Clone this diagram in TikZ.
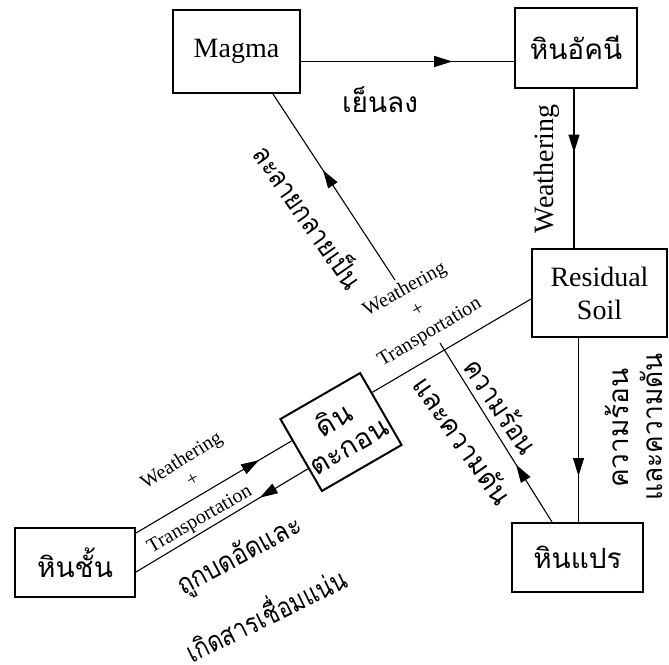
\documentclass[tikz,border=0pt]{standalone}
\usepackage{fontspec}
\setmainfont{Liberation Serif}
\newfontfamily\thai[Script=Thai]{Loma}
\usetikzlibrary{arrows.meta,decorations.markings,calc}
\tikzset{
  box/.style={draw, line width=2pt, inner sep=0pt, align=center},
  conn/.style={line width=1.1pt},
  arrowat/.style={postaction={decorate},decoration={markings,mark=at position #1 with {\arrow{Triangle[length=18pt,width=11pt]}}}},
  lat/.style={font=\fontsize{28}{30}\selectfont, inner sep=0pt},
  sml/.style={font=\fontsize{20}{24}\selectfont, inner sep=0pt},
  th/.style={font=\thai\fontsize{28}{34}\selectfont, inner sep=0pt, align=center}
}
\begin{document}
\begin{tikzpicture}[x=1pt,y=1pt]
\useasboundingbox (0,0) rectangle (669,-664);
% boxes
\node[box, lat, minimum width=127pt, minimum height=83pt] (magma) at (236.5,-51.5) {Magma};
\node[box, th, minimum width=122pt, minimum height=80pt] (igneous) at (576,-48) {หินอัคนี};
\node[box, lat, minimum width=135pt, minimum height=88pt, font=\fontsize{28}{33}\selectfont] (soil) at (599.5,-293) {Residual\\Soil};
\node[box, th, minimum width=131pt, minimum height=69pt] (meta) at (577.5,-557.5) {หินแปร};
\node[box, th, minimum width=120pt, minimum height=69pt] (sed) at (75,-562.5) {หินชั้น};
\node[box, th, rotate=30, minimum width=92pt, minimum height=83pt, font=\thai\fontsize{28}{30}\selectfont] (sedi) at (341,-432) {ดิน\\ตะกอน};
% helper coordinates
\coordinate (h1) at (0,-61.5);
\coordinate (v1) at (574,0);
\coordinate (v2) at (578.5,0);
\coordinate (v3) at (552,0);
\coordinate (v4) at (273,0);
\coordinate (mfree) at (395,-280);
\coordinate (pfree) at (440,-343);
\coordinate (send) at (0,-299);
\coordinate (st) at (0,-533);
\coordinate (sb) at (0,-572);
\coordinate (sa) at ($(sedi.north east)!0.28!(sedi.south east)$);
\coordinate (sw1) at ($(sedi.north west)!0.3!(sedi.south west)$);
\coordinate (sw2) at ($(sedi.north west)!0.68!(sedi.south west)$);
% connectors
\draw[conn, arrowat=0.71] (magma.east |- h1) -- (igneous.west |- h1);
\draw[conn, arrowat=0.40] (igneous.south -| v1) -- (soil.north -| v1);
\draw[conn, arrowat=0.75] (soil.south -| v2) -- (meta.north -| v2);
\draw[conn, arrowat=0.32] (meta.north -| v3) -- (pfree);
\draw[conn, arrowat=0.59] (mfree) -- (magma.south -| v4);
\draw[conn] (sa) -- (soil.west |- send);
\draw[conn, arrowat=0.79] (sed.east |- st) -- (sw1);
\draw[conn, arrowat=0.28] (sw2) -- (sed.east |- sb);
% labels
\node[th] (l1) at (380,-100) {เย็นลง};
\node[lat, rotate=90] (l2) at (547,-169) {Weathering};
\node[th, rotate=-55] (l3) at (310,-216) {\scalebox{0.86}[1]{ละลายกลายเป็น}};
\node[th, rotate=-56] (l4) at (502,-406) {\scalebox{0.9}[1]{ความร้อน}};
\node[th, rotate=-55] (l5) at (463,-440) {\scalebox{0.95}[1]{และความดัน}};
\node[th, rotate=90] (l6) at (617,-428) {ความร้อน};
\node[th, rotate=90] (l7) at (651,-427) {\scalebox{0.94}[1]{และความดัน}};
\node[th, rotate=28] (l8) at (240,-557) {\scalebox{0.88}[1]{ถูกบดอัดและ}};
\node[th, rotate=26] (l9) at (265,-612) {\scalebox{0.82}[1]{เกิดสารเชื่อมแน่น}};
\node[sml, rotate=29] (w1) at (405,-290) {Weathering};
\node[sml, rotate=30] (p1) at (418,-310) {+};
\node[sml, rotate=31] (t1) at (430,-333) {Transportation};
\node[sml, rotate=32] (w2) at (182,-461) {Weathering};
\node[sml, rotate=30] (p2) at (193,-480) {+};
\node[sml, rotate=30] (t2) at (200,-520) {Transportation};
\end{tikzpicture}
\end{document}
